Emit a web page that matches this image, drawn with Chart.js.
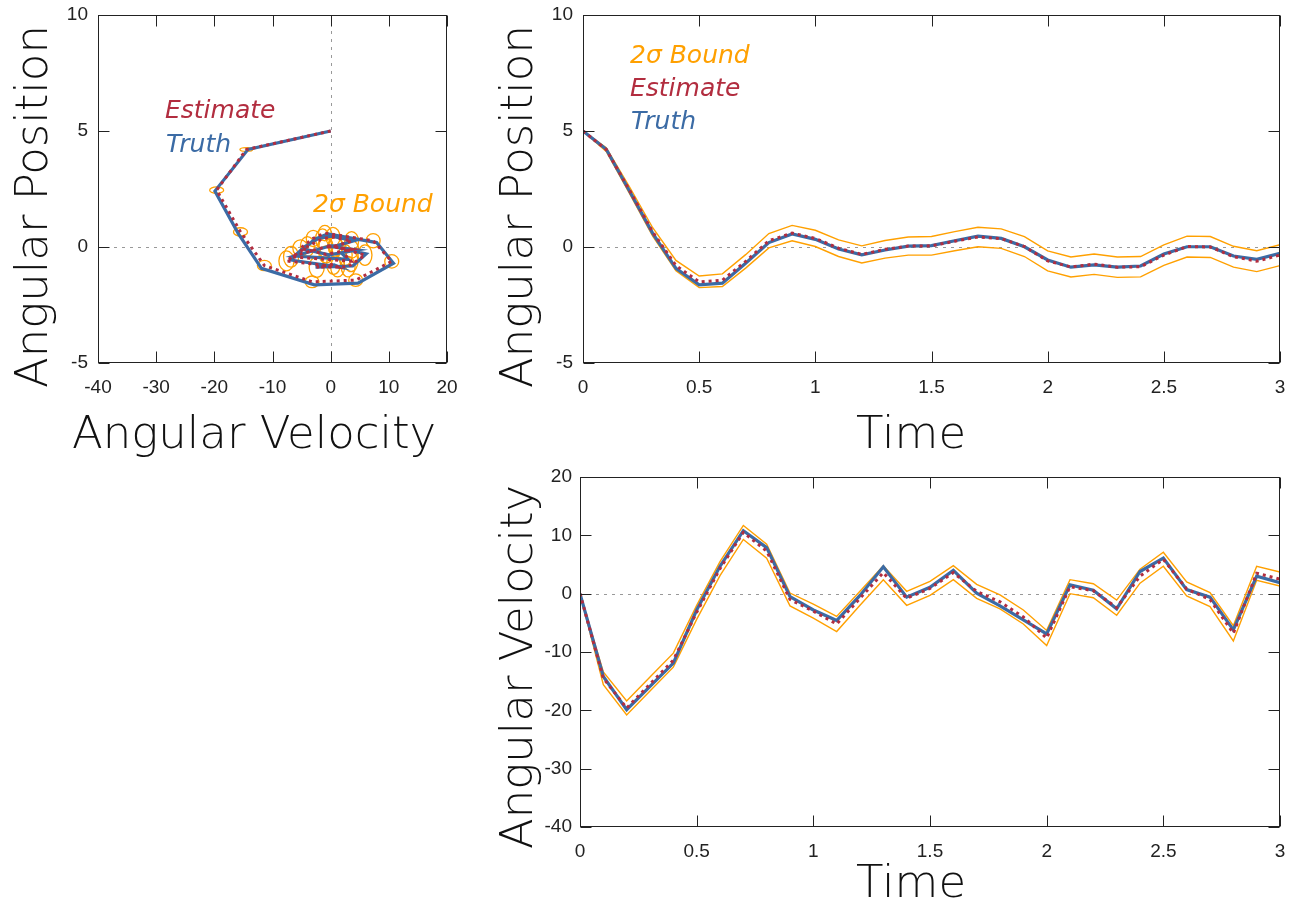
<!DOCTYPE html>
<html>
<head>
<meta charset="utf-8">
<script src="https://cdn.jsdelivr.net/npm/chart.js@4.4.1/dist/chart.umd.min.js"></script>
<style>
body { margin: 0; background: #fff; width: 1300px; height: 909px; position: relative; overflow: hidden; }
canvas { position: absolute; }
.title { position: absolute; font-family: "DejaVu Sans"; font-weight: 200; font-size: 45px; line-height: 45px; color: #111; white-space: nowrap; }
.rot { transform-origin: 0 0; transform: rotate(-90deg); }
.key { position: absolute; font-family: "DejaVu Sans"; font-style: italic; font-size: 25px; line-height: 25px; white-space: nowrap; }
</style>
</head>
<body>
<canvas id="phaseChart" width="480" height="460" style="left:0px;top:0px"></canvas>
<canvas id="posChart" width="810" height="460" style="left:490px;top:0px"></canvas>
<canvas id="velChart" width="810" height="449" style="left:490px;top:460px"></canvas>

<div class="title rot" style="left:9px;top:388px">Angular Position</div>
<div class="title" style="left:72px;top:410px">Angular Velocity</div>
<div class="title rot" style="left:494px;top:388px">Angular Position</div>
<div class="title" style="left:856px;top:410px">Time</div>
<div class="title rot" style="left:494px;top:849px">Angular Velocity</div>
<div class="title" style="left:856px;top:859px">Time</div>

<div class="key" style="left:165px;top:97px;color:#b22d3f">Estimate</div>
<div class="key" style="left:166px;top:131px;color:#3b6ba5">Truth</div>
<div class="key" style="left:313px;top:191px;color:#ffa000">2σ Bound</div>
<div class="key" style="left:630px;top:42px;color:#ffa000">2σ Bound</div>
<div class="key" style="left:630px;top:75px;color:#b22d3f">Estimate</div>
<div class="key" style="left:631px;top:108px;color:#3b6ba5">Truth</div>

<script>
// time samples (s)
var timeSteps = [0, 0.1, 0.2, 0.3, 0.4, 0.5, 0.6, 0.7, 0.8, 0.9, 1.0, 1.1, 1.2, 1.3, 1.4, 1.5,
                 1.6, 1.7, 1.8, 1.9, 2.0, 2.1, 2.2, 2.3, 2.4, 2.5, 2.6, 2.7, 2.8, 2.9, 3.0];

// angular position
var posTruth = [5.0, 4.21, 2.41, 0.59, -0.92, -1.63, -1.56, -0.70, 0.19, 0.56, 0.33, -0.09, -0.34, -0.13, 0.04, 0.06,
                0.27, 0.47, 0.37, 0.01, -0.56, -0.87, -0.77, -0.87, -0.82, -0.30, 0.01, 0.01, -0.39, -0.53, -0.27];
var posEstimate = [5.0, 4.2, 2.45, 0.65, -0.80, -1.50, -1.43, -0.62, 0.27, 0.60, 0.37, -0.05, -0.32, -0.10, 0.04, 0.05,
                   0.25, 0.43, 0.36, 0.02, -0.60, -0.86, -0.74, -0.87, -0.85, -0.35, 0.02, 0.00, -0.42, -0.61, -0.35];
var posBound = [0, 0.08, 0.14, 0.18, 0.22, 0.25, 0.27, 0.29, 0.31, 0.33, 0.35, 0.36, 0.37, 0.38, 0.39, 0.40,
                0.41, 0.42, 0.42, 0.43, 0.43, 0.43, 0.44, 0.44, 0.44, 0.44, 0.45, 0.45, 0.45, 0.45, 0.45];

// angular velocity
var velTruth = [0, -14.2, -19.9, -15.9, -11.9, -2.8, 4.7, 10.8, 7.9, -0.5, -2.8, -4.6, -0.3, 4.6, -0.6, 1.1,
                4.0, 0.1, -2.1, -4.5, -6.9, 1.5, 0.6, -2.6, 3.8, 6.1, 0.7, -0.6, -6.2, 3.0, 1.9];
var velEstimate = [0, -14.5, -19.6, -15.5, -11.4, -3.2, 4.3, 10.5, 7.3, -1.0, -3.0, -5.2, -0.8, 3.6, -0.8, 0.9,
                   3.6, 0.4, -1.4, -4.0, -7.6, 1.2, 0.5, -2.4, 3.0, 5.9, 0.8, -1.0, -6.8, 3.5, 2.5];
var velBound = [0, 1.1, 1.2, 1.2, 1.2, 1.2, 1.2, 1.2, 1.2, 1.1, 1.2, 1.3, 1.2, 1.2, 1.2, 1.2,
                1.2, 1.2, 1.2, 1.2, 1.3, 1.2, 1.2, 1.3, 1.2, 1.2, 1.2, 1.2, 1.3, 1.2, 1.2];

// tick labels
var timeTicks = [0, 0.5, 1, 1.5, 2, 2.5, 3];
var posTicks = [-5, 0, 5, 10];
var velTicks = [-40, -30, -20, -10, 0, 10, 20];
var phaseVelTicks = [-40, -30, -20, -10, 0, 10, 20];

var RED = '#b22d3f', BLUE = '#3b6ba5', ORANGE = '#ffa000';
var tickFont = { family: '"Liberation Sans", Arial, sans-serif', size: 19 };

Chart.defaults.animation = false;

function pairs(xs, ys) {
    return xs.map(function(x, i) { return { x: x, y: ys[i] }; });
}
function shifted(vals, bound, sign) {
    return vals.map(function(v, i) { return v + sign * bound[i]; });
}
function fixedTicks(list) {
    return function(scale) {
        scale.ticks = list.map(function(v) { return { value: v }; });
    };
}

// zero lines, frame and inward tick marks
var framePlugin = {
    id: 'frame',
    beforeDatasetsDraw: function(chart, args, opts) {
        var ctx = chart.ctx, a = chart.chartArea;
        ctx.save();
        ctx.strokeStyle = '#999';
        ctx.lineWidth = 1;
        ctx.setLineDash([3, 5]);
        var y0 = Math.round(chart.scales.y.getPixelForValue(0)) + 0.5;
        ctx.beginPath(); ctx.moveTo(a.left, y0); ctx.lineTo(a.right, y0); ctx.stroke();
        if (opts.zeroX) {
            var x0 = Math.round(chart.scales.x.getPixelForValue(0)) + 0.5;
            ctx.beginPath(); ctx.moveTo(x0, a.top); ctx.lineTo(x0, a.bottom); ctx.stroke();
        }
        ctx.restore();
    },
    afterDatasetsDraw: function(chart) {
        var ctx = chart.ctx, a = chart.chartArea, len = 11;
        var L = Math.round(a.left) + 0.5, R = Math.round(a.right) - 0.5;
        var T = Math.round(a.top) + 0.5, B = Math.round(a.bottom) - 0.5;
        ctx.save();
        ctx.strokeStyle = '#222';
        ctx.lineWidth = 1;
        ctx.beginPath();
        chart.scales.x.ticks.forEach(function(t) {
            var x = Math.round(chart.scales.x.getPixelForValue(t.value)) + 0.5;
            ctx.moveTo(x, B); ctx.lineTo(x, B - len);
            ctx.moveTo(x, T); ctx.lineTo(x, T + len);
        });
        chart.scales.y.ticks.forEach(function(t) {
            var y = Math.round(chart.scales.y.getPixelForValue(t.value)) + 0.5;
            ctx.moveTo(L, y); ctx.lineTo(L + len, y);
            ctx.moveTo(R, y); ctx.lineTo(R - len, y);
        });
        ctx.stroke();
        ctx.strokeRect(L, T, R - L, B - T);
        ctx.restore();
    }
};

// 2-sigma ellipses around the estimate in the phase plot
var ellipsePlugin = {
    id: 'ellipses',
    beforeDatasetsDraw: function(chart) {
        var ctx = chart.ctx, a = chart.chartArea;
        var xs = chart.scales.x, ys = chart.scales.y;
        ctx.save();
        ctx.beginPath();
        ctx.rect(a.left, a.top, a.right - a.left, a.bottom - a.top);
        ctx.clip();
        ctx.strokeStyle = ORANGE;
        ctx.lineWidth = 1.3;
        for (var i = 0; i < timeSteps.length; i++) {
            var cx = xs.getPixelForValue(velEstimate[i]);
            var cy = ys.getPixelForValue(posEstimate[i]);
            var rx = Math.abs(xs.getPixelForValue(velEstimate[i] + velBound[i]) - cx);
            var ry = Math.abs(ys.getPixelForValue(posEstimate[i] + posBound[i]) - cy);
            if (rx <= 0 || ry <= 0) continue;
            ctx.beginPath();
            ctx.ellipse(cx, cy, rx, ry, 0, 0, Math.PI * 2);
            ctx.stroke();
        }
        ctx.restore();
    }
};

function axes(xMin, xMax, xTicks, yMin, yMax, yTicks, yWidth, xHeight, yPad) {
    return {
        x: {
            type: 'linear', min: xMin, max: xMax,
            afterBuildTicks: fixedTicks(xTicks),
            afterFit: function(s) { s.height = xHeight; s.paddingLeft = 0; s.paddingRight = 0; },
            grid: { display: false, drawTicks: false }, border: { display: false },
            ticks: { font: tickFont, color: '#222', padding: 13, maxRotation: 0,
                     callback: function(v) { return String(v); } }
        },
        y: {
            type: 'linear', min: yMin, max: yMax,
            afterBuildTicks: fixedTicks(yTicks),
            afterFit: function(s) { s.width = yWidth; s.paddingTop = 0; s.paddingBottom = 0; },
            grid: { display: false, drawTicks: false }, border: { display: false },
            ticks: { font: tickFont, color: '#222', padding: yPad,
                     callback: function(v) { return String(v); } }
        }
    };
}

function lineSet(data, color, width, dash) {
    return {
        data: data, borderColor: color, borderWidth: width, borderDash: dash || [],
        pointRadius: 0, fill: false, tension: 0, showLine: true
    };
}

function timeChart(id, truth, est, bound, yMin, yMax, yTicks, yWidth, xHeight, pad, yPad) {
    return new Chart(document.getElementById(id), {
        type: 'scatter',
        data: {
            datasets: [
                lineSet(pairs(timeSteps, est), RED, 3, [3, 4]),
                lineSet(pairs(timeSteps, truth), BLUE, 3.2),
                lineSet(pairs(timeSteps, shifted(est, bound, 1)), ORANGE, 1.4),
                lineSet(pairs(timeSteps, shifted(est, bound, -1)), ORANGE, 1.4)
            ]
        },
        options: {
            responsive: false,
            layout: { padding: pad },
            plugins: { legend: { display: false }, tooltip: { enabled: false }, frame: {} },
            scales: axes(0, 3, timeTicks, yMin, yMax, yTicks, yWidth, xHeight, yPad)
        },
        plugins: [framePlugin]
    });
}

// phase plot
new Chart(document.getElementById('phaseChart'), {
    type: 'scatter',
    data: {
        datasets: [
            lineSet(pairs(velEstimate, posEstimate), RED, 3, [3, 4]),
            lineSet(pairs(velTruth, posTruth), BLUE, 3.2)
        ]
    },
    options: {
        responsive: false,
        layout: { padding: { top: 15, right: 33, left: 0, bottom: 0 } },
        plugins: { legend: { display: false }, tooltip: { enabled: false }, frame: { zeroX: true } },
        scales: axes(-40, 20, phaseVelTicks, -5, 10, posTicks, 98, 97, 10)
    },
    plugins: [framePlugin, ellipsePlugin]
});

timeChart('posChart', posTruth, posEstimate, posBound, -5, 10, posTicks, 93, 97,
          { top: 15, right: 20, left: 0, bottom: 0 }, 10);
timeChart('velChart', velTruth, velEstimate, velBound, -40, 20, velTicks, 90, 82,
          { top: 17, right: 20, left: 0, bottom: 0 }, 8);
</script>
</body>
</html>
